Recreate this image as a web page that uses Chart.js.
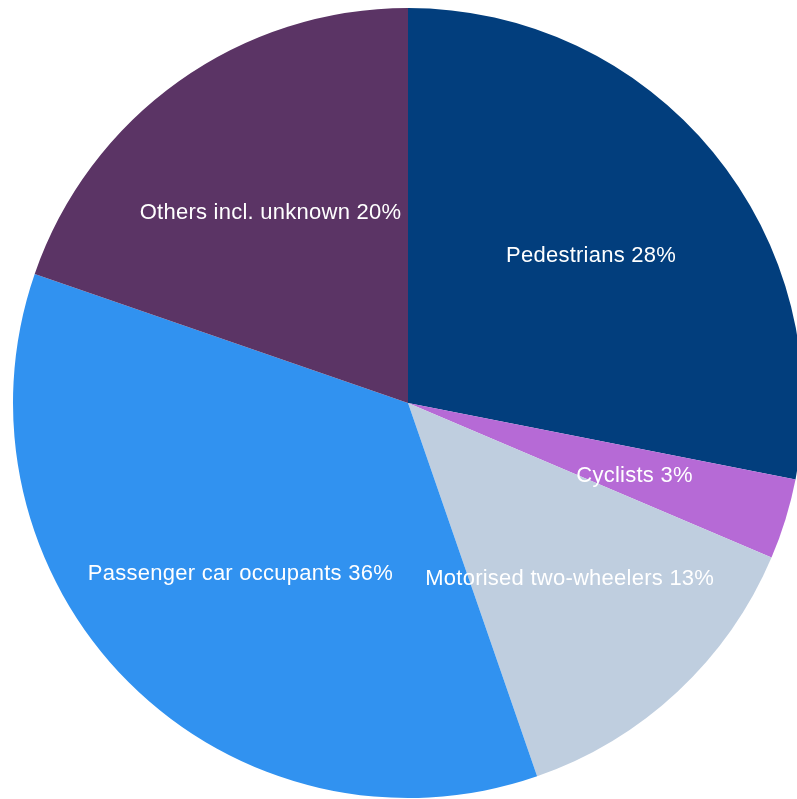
<!DOCTYPE html>
<html>
<head>
    <title>Road fatalities by mode</title>
    <script src="https://cdn.jsdelivr.net/npm/chart.js@4.4.1/dist/chart.umd.min.js"></script>
    <style>
        html, body {
            margin: 0;
            padding: 0;
            background: white;
            overflow: hidden;
        }
        #wrap {
            position: absolute;
            left: 0;
            top: 0;
            width: 816px;
            height: 806px;
        }
    </style>
</head>
<body>
    <div id="wrap">
        <canvas id="pieChart"></canvas>
    </div>

    <script>
        // Data (slice sizes)
        const categories = ['Pedestrians', 'Cyclists', 'Motorised two-wheelers', 'Passenger car occupants', 'Others incl. unknown'];
        const shares = [28.1, 3.3, 13.3, 35.6, 19.7];
        const shareLabels = ['28%', '3%', '13%', '36%', '20%'];
        const sliceColors = ['#023E7D', '#B66AD6', '#BFCEDF', '#3192F0', '#5B3465'];

        // Draws the white text labels inside each slice
        const sliceLabels = {
            id: 'sliceLabels',
            afterDatasetsDraw(chart) {
                const ctx = chart.ctx;
                const meta = chart.getDatasetMeta(0);
                ctx.save();
                ctx.font = '22px "Liberation Sans", Arial, sans-serif';
                ctx.letterSpacing = '0.25px';
                ctx.fillStyle = '#ffffff';
                ctx.textAlign = 'center';
                ctx.textBaseline = 'middle';
                meta.data.forEach((arc, i) => {
                    const p = arc.getProps(['x', 'y', 'startAngle', 'endAngle', 'outerRadius'], true);
                    const mid = (p.startAngle + p.endAngle) / 2;
                    const r = p.outerRadius * 0.6;
                    const x = p.x + Math.cos(mid) * r;
                    const y = p.y + Math.sin(mid) * r + 3;
                    ctx.fillText(categories[i] + ' ' + shareLabels[i], x, y);
                });
                ctx.restore();
            }
        };

        new Chart(document.getElementById('pieChart'), {
            type: 'pie',
            data: {
                labels: categories,
                datasets: [{
                    data: shares,
                    backgroundColor: sliceColors,
                    borderWidth: 0
                }]
            },
            options: {
                responsive: true,
                maintainAspectRatio: false,
                animation: false,
                layout: { padding: 8 },
                plugins: {
                    legend: { display: false },
                    tooltip: { enabled: false }
                }
            },
            plugins: [sliceLabels]
        });
    </script>
</body>
</html>
